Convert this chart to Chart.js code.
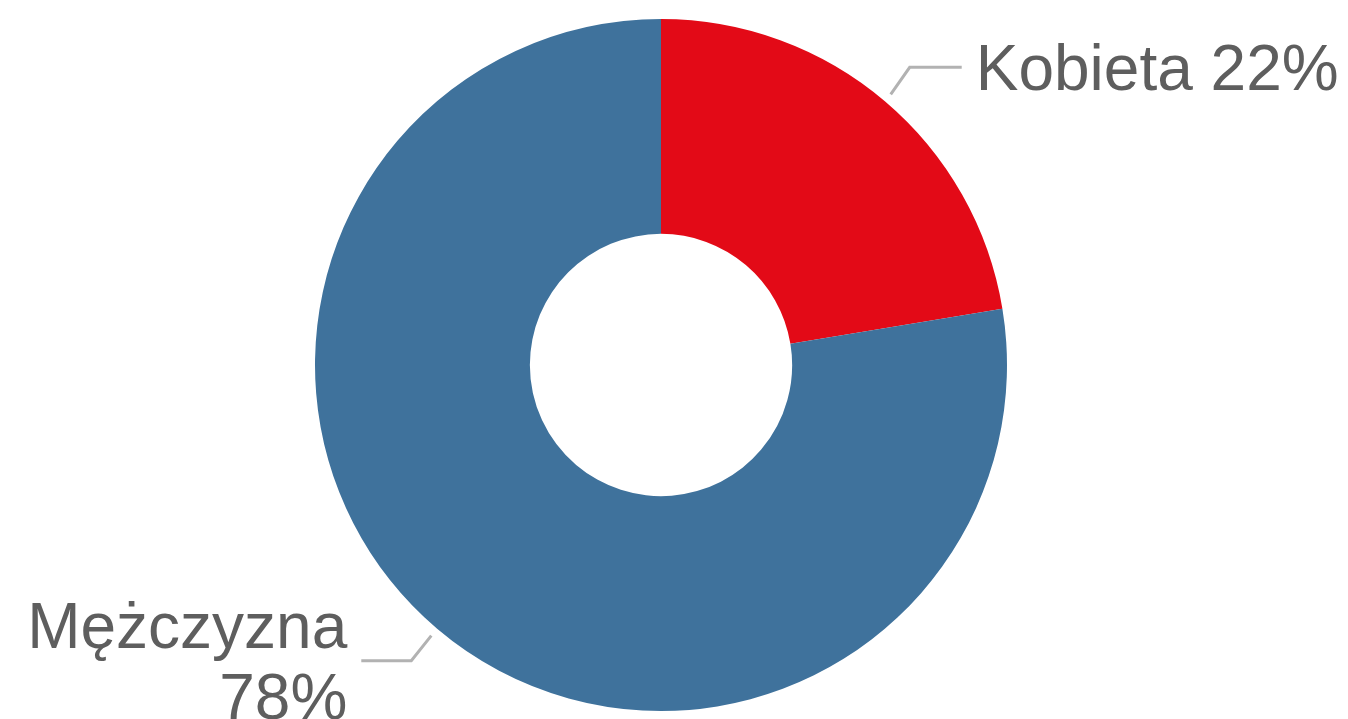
<!DOCTYPE html>
<html>
<head>
<meta charset="utf-8">
<script src="https://cdn.jsdelivr.net/npm/chart.js@4"></script>
<style>
    html, body { margin: 0; padding: 0; background: #ffffff; }
    #wrap { width: 1348px; height: 719px; }
</style>
</head>
<body>
<div id="wrap"><canvas id="gender-chart"></canvas></div>
<script>
const categories = ['Kobieta', 'Mężczyzna'];
const shares = [22.4, 77.6];
const sliceColors = ['#E30A17', '#3F729C'];

/* ============================== LABELS ============================== */
const calloutPlugin = {
    id: 'calloutPlugin',
    afterDatasetsDraw(chart) {
        const { ctx } = chart;
        const meta = chart.getDatasetMeta(0);
        const fontSize = 64;
        const lineH = 71;
        const capH = fontSize * 0.716;

        ctx.save();
        ctx.font = fontSize + 'px "Liberation Sans", Arial, sans-serif';
        meta.data.forEach((arc, i) => {
            const mid = (arc.startAngle + arc.endAngle) / 2;
            const r = arc.outerRadius + 9;
            const sx = arc.x + Math.cos(mid) * r;
            const sy = arc.y + Math.sin(mid) * r;
            const right = Math.cos(mid) >= 0;
            const ex = sx + (right ? 19 : -20);
            const ey = sy + (Math.sin(mid) < 0 ? -27 : 25);
            const hx = ex + (right ? 52 : -50);

            ctx.strokeStyle = '#B2B2B2';
            ctx.lineWidth = 3;
            ctx.beginPath();
            ctx.moveTo(sx, sy);
            ctx.lineTo(ex, ey);
            ctx.lineTo(hx, ey);
            ctx.stroke();

            // percentages shown rounded, as in the original
            const pct = Math.round(shares[i]) + '%';
            const lines = right ? [categories[i] + ' ' + pct] : [categories[i], pct];
            const blockH = capH + (lines.length - 1) * lineH;
            let base = ey - blockH / 2 + capH;
            ctx.fillStyle = '#5E5E5E';
            ctx.textBaseline = 'alphabetic';
            ctx.textAlign = right ? 'left' : 'right';
            const tx = hx + (right ? 14 : -14);
            lines.forEach(t => {
                ctx.fillText(t, tx, base);
                base += lineH;
            });
        });
        ctx.restore();
    }
};

/* ============================== GRAPH ============================== */
function genderChart() {
    const ctx = document.getElementById('gender-chart').getContext('2d');

    new Chart(ctx, {
        type: 'doughnut',
        data: {
            labels: categories,
            datasets: [{
                data: shares,
                backgroundColor: sliceColors,
                borderWidth: 0,
                hoverOffset: 0
            }]
        },
        options: {
            responsive: true,
            maintainAspectRatio: false,
            animation: false,
            cutout: '37.9%',
            layout: {
                padding: { left: 315, right: 341, top: 19, bottom: 8 }
            },
            plugins: {
                legend: { display: false },
                tooltip: { enabled: false }
            }
        },
        plugins: [calloutPlugin]
    });
}

genderChart();
</script>
</body>
</html>
